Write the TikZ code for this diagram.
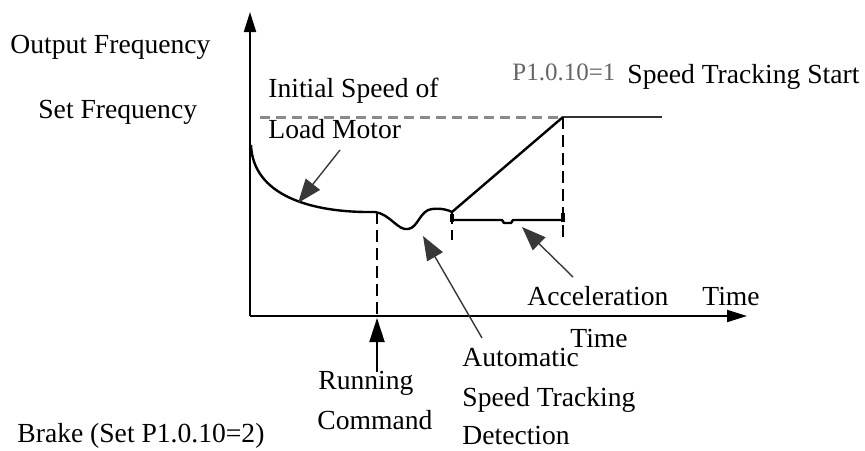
\documentclass[tikz,border=0pt]{standalone}
\usepackage{fontspec}
\setmainfont{Liberation Serif}
\usetikzlibrary{arrows.meta}
\definecolor{setc}{HTML}{8A8A8A}
\definecolor{pointc}{HTML}{383838}
\definecolor{parc}{HTML}{666666}

\begin{document}
\begin{tikzpicture}[x=0.5pt, y=-0.5pt, font=\fontsize{13.8}{16}\selectfont,
    lbl/.style={anchor=base west, inner sep=0pt},
    axis/.style={line width=1pt, -{Triangle[length=10pt, width=6pt]}},
    curve/.style={line width=1.2pt, line join=round},
    guide/.style={line width=0.7pt, dash pattern=on 6pt off 3pt},
    pointer/.style={pointc, line width=0.7pt, -{Triangle[length=12pt, width=9pt]}}]
    \clip (0,0) rectangle (865,450);
    % axes (image pixels, y downward)
    \draw[axis] (250,316) -- (250,12);
    \draw[axis] (250,316) -- (747,316);
    % set frequency level
    \draw[setc, line width=1.5pt, dash pattern=on 5pt off 3pt] (260,117) -- (563,117);
    \draw[curve, black!80] (563,117) -- (662,117);
    % guide lines
    \draw[guide] (377,212) -- (377,316);
    \draw[guide] (452,212) -- (452,240);
    \draw[guide] (563,117) -- (563,240);
    % output frequency curve
    \draw[curve] (251,145) .. controls (253,195) and (310,213) .. (375,212)
      .. controls (390,214) and (398,231) .. (408,229)
      .. controls (418,228) and (420,210) .. (432,209)
      .. controls (442,208) and (448,210) .. (452,212)
      -- (563,117);
    % acceleration time span
    \draw[curve] (452,220) -- (502,220) -- (504,223) -- (511,223) -- (513,220) -- (563,220);
    \draw[line width=2pt] (452,214) -- (452,222);
    \draw[line width=2pt] (563,213) -- (563,222);
    % labels
    \node[lbl] (outf) at (10,53) {Output Frequency};
    \node[lbl] (setf) at (38,118) {Set Frequency};
    \node[lbl] (init) at (268,97) {Initial Speed of};
    \node[lbl] (load) at (268,138) {Load Motor};
    \node[lbl, parc, font=\fontsize{12.5}{14}\selectfont] (par) at (512,80) {P1.0.10=1};
    \node[lbl] (start) at (627,83) {Speed Tracking Start};
    \node[lbl] (run) at (318,389) {Running};
    \node[lbl] (cmd) at (317,429) {Command};
    \node[lbl] (acc) at (527,305) {Acceleration};
    \node[lbl] (acct) at (570,347) {Time};
    \node[lbl] (time) at (702,305) {Time};
    \node[lbl] (auto) at (462,366) {Automatic};
    \node[lbl] (spd) at (462,406) {Speed Tracking};
    \node[lbl] (det) at (462,444) {Detection};
    \node[lbl] (brake) at (17,442) {Brake (Set P1.0.10=2)};
    % pointers
    \coordinate (loadtail) at (340,150);
    \coordinate (loadtip) at (298,203);
    \coordinate (runtail) at (377,372);
    \coordinate (runtip) at (377,318);
    \coordinate (autotail) at (482,338);
    \coordinate (autotip) at (423,236);
    \coordinate (acctail) at (573,277);
    \coordinate (acctip) at (522,227);
    \draw[pointer] (loadtail) -- (loadtip);
    \draw[pointer, black, line width=1pt, -{Triangle[length=12pt, width=7.5pt]}] (runtail) -- (runtip);
    \draw[pointer] (autotail) -- (autotip);
    \draw[pointer] (acctail) -- (acctip);
\end{tikzpicture}
\end{document}
